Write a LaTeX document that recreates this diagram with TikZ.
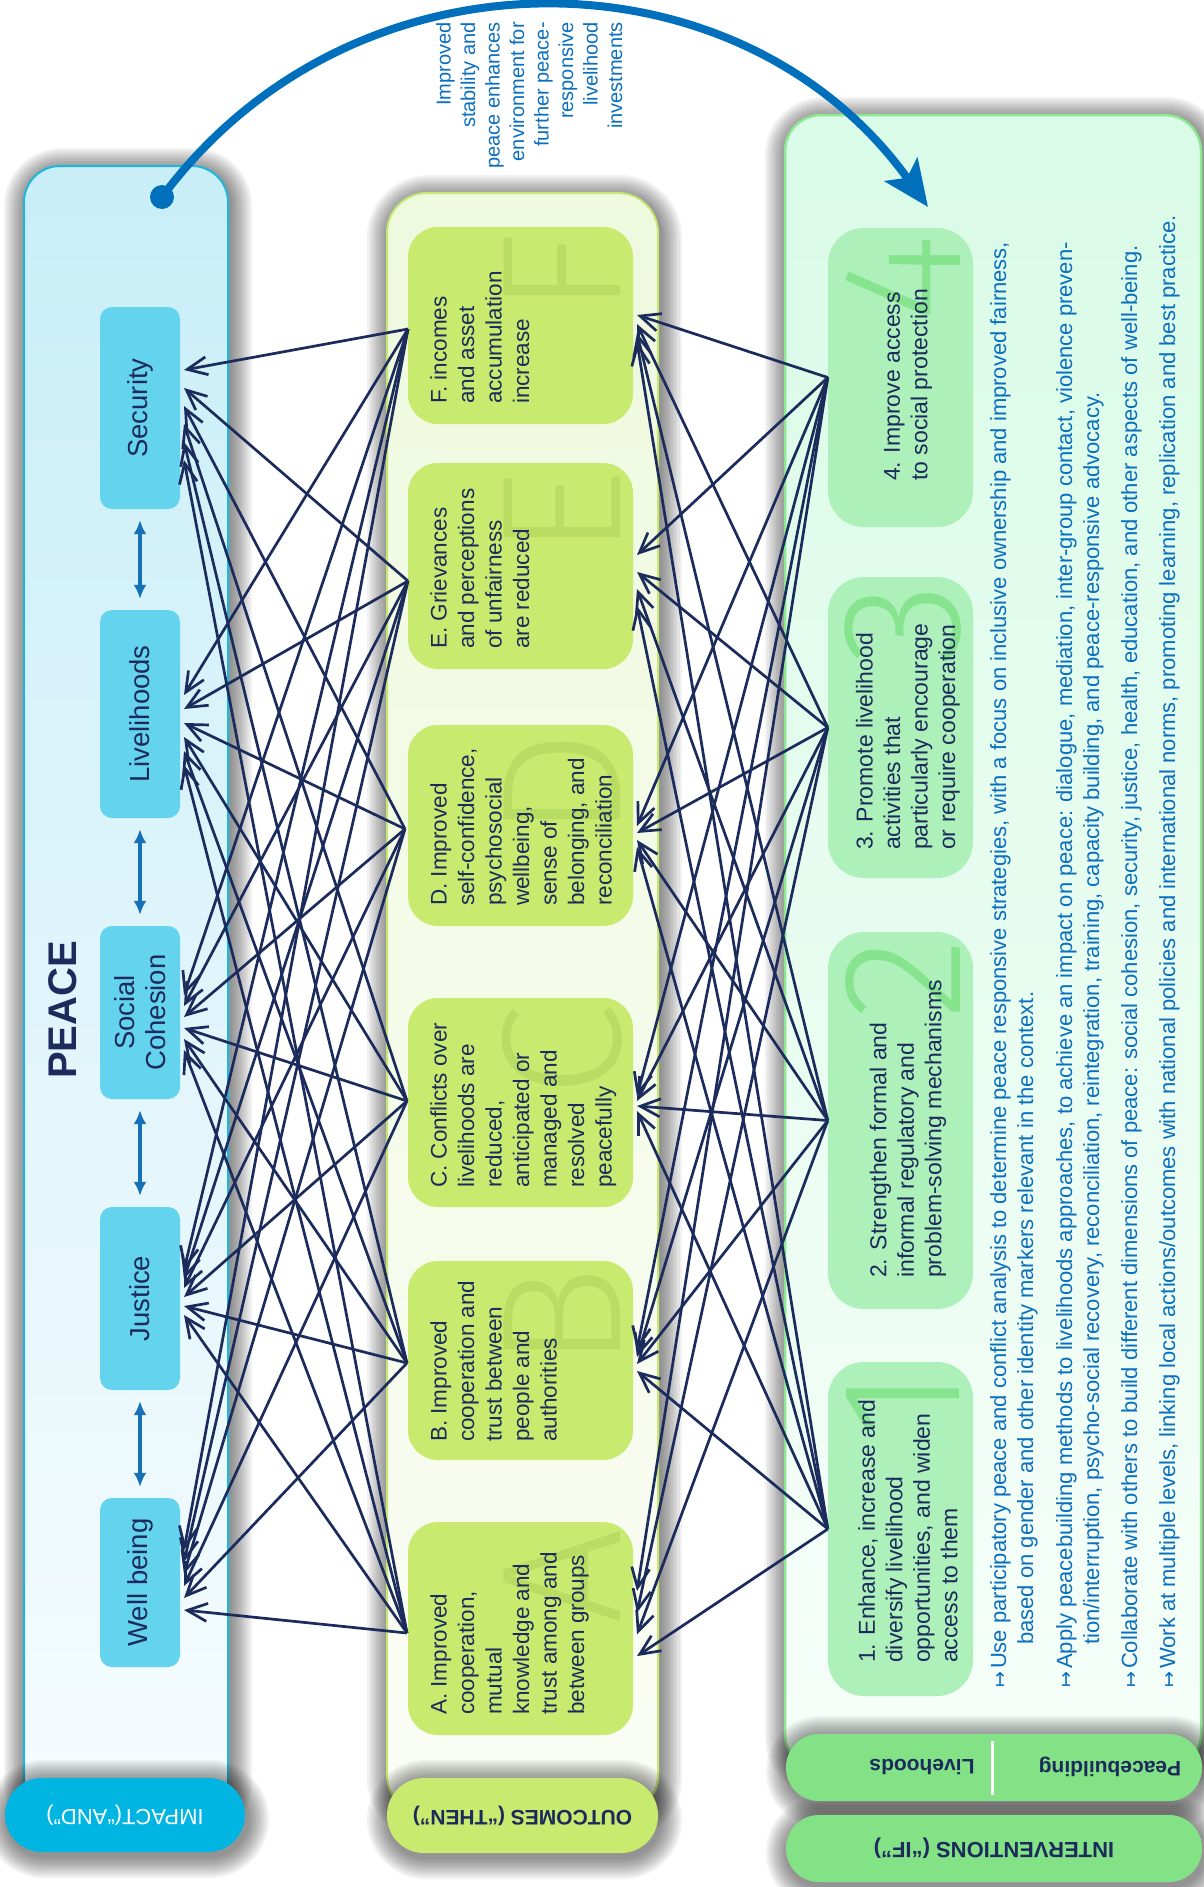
\documentclass[tikz,border=0pt]{standalone}
\usepackage{fontspec}
\setmainfont{Liberation Sans}
\newfontfamily\dejavu{DejaVu Sans}
\newfontfamily\thinfont{Fira Sans Light}
\usetikzlibrary{arrows.meta}
\definecolor{navy}{HTML}{1C2B5B}
\definecolor{linkc}{HTML}{1B2C5C}
\definecolor{impDark}{HTML}{00B5E2}
\definecolor{impInner}{HTML}{64D3EE}
\definecolor{impBorder}{HTML}{1DB6DC}
\definecolor{impTop}{HTML}{C9EEF8}
\definecolor{impBot}{HTML}{F6FCFE}
\definecolor{outInner}{HTML}{C8EA6F}
\definecolor{outLetter}{HTML}{B9DC62}
\definecolor{outBorder}{HTML}{C6E871}
\definecolor{outTop}{HTML}{EFF9DE}
\definecolor{outBot}{HTML}{FAFDF4}
\definecolor{intInner}{HTML}{AEF0BA}
\definecolor{intNum}{HTML}{86E38E}
\definecolor{intPill}{HTML}{84E286}
\definecolor{intBorder}{HTML}{8CE890}
\definecolor{intTop}{HTML}{D9FBE7}
\definecolor{intBot}{HTML}{F6FEF9}
\definecolor{bluetxt}{HTML}{0A6FBF}
\definecolor{arcblue}{HTML}{0070BD}
\definecolor{dblblue}{HTML}{1570B8}
\newcommand\softshadow[5]{%
  \foreach \sh in {1,...,10}{%
    \pgfmathsetmacro\shr{#5+\sh*2.2}%
    \fill[black,opacity=0.05,rounded corners=\shr pt] ({#1-\sh*2.2+2},{#2-\sh*2.2+4}) rectangle ({#3+\sh*2.2+2},{#4+\sh*2.2+4});}}
\newcommand\bularr{{\dejavu\fontsize{19}{19}\selectfont ↦}\hspace{3pt}}
\begin{document}
\begin{tikzpicture}[x=1pt,y=-1pt,
  impbox/.style={fill=impInner, rounded corners=12pt, minimum width=80pt, inner sep=0pt},
  outbox/.style={fill=outInner, rounded corners=30pt, minimum width=225pt, inner sep=0pt},
  intbox/.style={fill=intInner, rounded corners=36pt, minimum width=145pt, inner sep=0pt},
  imptext/.style={rotate=90, align=center, inner sep=0pt, text=navy, font=\fontsize{27.5}{31}\selectfont},
  outtext/.style={rotate=90, anchor=north west, align=left, inner sep=0pt, text=navy, font=\fontsize{22.5}{27.5}\selectfont},
  inttext/.style={rotate=90, anchor=west, align=left, inner sep=0pt, text=navy, font=\fontsize{23}{27.5}\selectfont},
  bigletter/.style={rotate=90, anchor=east, inner sep=0pt, text=outLetter, font=\thinfont\fontsize{170}{170}\selectfont},
  bignum/.style={rotate=90, anchor=east, inner sep=0pt, text=intNum, font=\thinfont\fontsize{170}{170}\selectfont},
  bullet/.style={rotate=90, anchor=north west, align=left, inner sep=0pt, text=bluetxt, font=\fontsize{22}{27}\selectfont},
  arrowline/.style={draw=linkc, line width=2.7pt, -{Straight Barb[length=20pt,width=18pt]}},
  twoway/.style={draw=dblblue, line width=3.2pt, {Latex[length=14pt,width=13pt]}-{Latex[length=14pt,width=13pt]}, shorten <=11pt, shorten >=11pt},
  pilltext/.style={rotate=180, text=navy, font=\bfseries\fontsize{21}{21}\selectfont}
]
\useasboundingbox (0,0) rectangle (1203,1887);
\fill[white] (0,0) rectangle (1203,1887);

% ---------- column shadows and frames ----------
\softshadow{24}{166}{228}{1815}{36}
\softshadow{387}{193}{658}{1815}{40}
\softshadow{785}{115}{1201}{1770}{36}
\path[draw=impBorder, line width=2pt, top color=impTop, bottom color=impBot, rounded corners=36pt] (24,166) rectangle (228,1815);
\path[draw=outBorder, line width=2pt, top color=outTop, bottom color=outBot, rounded corners=40pt] (387,193) rectangle (658,1815);
\path[draw=intBorder, line width=2.5pt, top color=intTop, bottom color=intBot, rounded corners=36pt] (785,115) rectangle (1201,1770);

% ---------- pills ----------
\softshadow{5}{1778}{245}{1852}{37}
\softshadow{387}{1778}{658}{1853}{37}
\softshadow{786}{1734}{1202}{1801}{33}
\softshadow{786}{1815}{1202}{1882}{33}
\node[rotate=180, fill=impDark, rounded corners=37pt, minimum width=240pt, minimum height=74pt, inner sep=0pt, text=white, font=\fontsize{22}{22}\selectfont] (impPill) at (125,1815) {IMPACT(“AND”)};
\node[rotate=180, fill=outInner, rounded corners=37pt, minimum width=271pt, minimum height=75pt, inner sep=0pt, text=navy, font=\bfseries\fontsize{21}{21}\selectfont] (outPill) at (522.5,1815.5) {OUTCOMES (“THEN”)};
\node[fill=intPill, rounded corners=33pt, minimum width=416pt, minimum height=67pt, inner sep=0pt] (pbPill) at (994,1767.5) {};
\draw[white, line width=3pt] (992,1741) -- (992,1795);
\node[pilltext] (lhT) at (922,1767) {Livehoods};
\node[pilltext] (pbT) at (1110,1767) {Peacebuilding};
\node[rotate=180, fill=intPill, rounded corners=33pt, minimum width=416pt, minimum height=67pt, inner sep=0pt, text=navy, font=\bfseries\fontsize{22}{22}\selectfont] (ifPill) at (994,1848.5) {INTERVENTIONS (“IF”)};

% ---------- impact ----------
\node[rotate=90, text=navy, font=\bfseries\fontsize{40}{40}\selectfont] (peace) at (63,1010) {PEACE};
\node[impbox, minimum height=202pt] (sec) at (140,408) {};
\node[impbox, minimum height=208pt] (liv) at (140,714) {};
\node[impbox, minimum height=173pt] (soc) at (140,1012.5) {};
\node[impbox, minimum height=183pt] (jus) at (140,1298.5) {};
\node[impbox, minimum height=169pt] (wel) at (140,1582.5) {};
\node[imptext] (secT) at (sec.center) {Security};
\node[imptext] (livT) at (liv.center) {Livelihoods};
\node[imptext] (socT) at (soc.center) {Social\\Cohesion};
\node[imptext] (jusT) at (jus.center) {Justice};
\node[imptext] (welT) at (wel.center) {Well being};
\draw[twoway] (sec.south) -- (liv.north);
\draw[twoway] (liv.south) -- (soc.north);
\draw[twoway] (soc.south) -- (jus.north);
\draw[twoway] (jus.south) -- (wel.north);

% ---------- outcomes ----------
\node[outbox, minimum height=197pt] (F) at (520.5,325.5) {};
\node[outbox, minimum height=206pt] (E) at (520.5,566) {};
\node[outbox, minimum height=201pt] (D) at (520.5,825.5) {};
\node[outbox, minimum height=209pt] (C) at (520.5,1102.5) {};
\node[outbox, minimum height=199pt] (B) at (520.5,1360.5) {};
\node[outbox, minimum height=213pt] (A) at (520.5,1628.5) {};
\node[bigletter] (FL) at (562,233) {F};
\node[bigletter] (EL) at (562,469) {E};
\node[bigletter] (DL) at (562,731) {D};
\node[bigletter] (CL) at (562,1004) {C};
\node[bigletter] (BL) at (562,1267) {B};
\node[bigletter] (AL) at (562,1528) {A};
\node[outtext] (FT) at (430,404) {F. incomes\\and asset\\accumulation\\increase};
\node[outtext] (ET) at (430,649) {E. Grievances\\and perceptions\\of unfairness\\are reduced};
\node[outtext] (DT) at (430,906) {D. Improved\\self-confidence,\\psychosocial\\wellbeing,\\sense of\\belonging, and\\reconciliation};
\node[outtext] (CT) at (430,1188) {C. Conflicts over\\livelihoods are\\reduced,\\anticipated or\\managed and\\resolved\\peacefully};
\node[outtext] (BT) at (430,1442) {B. Improved\\cooperation and\\trust between\\people and\\authorities};
\node[outtext] (AT) at (430,1715) {A. Improved\\cooperation,\\mutual\\knowledge and\\trust among and\\between groups};

% ---------- interventions ----------
\node[intbox, minimum height=299pt] (i4) at (900.5,377.5) {};
\node[intbox, minimum height=301pt] (i3) at (900.5,727.5) {};
\node[intbox, minimum height=377pt] (i2) at (900.5,1120.5) {};
\node[intbox, minimum height=334pt] (i1) at (900.5,1529) {};
\node[bignum] (n4) at (903,234) {4};
\node[bignum] (n3) at (903,583) {3};
\node[bignum] (n2) at (903,938) {2};
\node[bignum] (n1) at (903,1368) {1};
\node[inttext] (i4T) at (908,481) {4. Improve access\\to social protection};
\node[inttext] (i3T) at (908,850) {3. Promote livelihood\\activities that\\particularly encourage\\or require cooperation};
\node[inttext] (i2T) at (908,1278) {2. Strengthen formal and\\informal regulatory and\\problem-solving mechanisms};
\node[inttext] (i1T) at (908,1663) {1. Enhance, increase and\\diversify livelihood\\opportunities, and widen\\access to them};

\node[bullet] (b1) at (990,1688) {\bularr Use participatory peace and conflict analysis to determine peace responsive strategies, with a focus on inclusive ownership and improved fairness,\\\hspace*{43pt}based on gender and other identity markers relevant in the context.};
\node[bullet] (b2) at (1056,1688) {\bularr Apply peacebuilding methods to livelihoods approaches, to achieve an impact on peace: dialogue, mediation, inter-group contact, violence preven-\\\hspace*{43pt}tion/interruption, psycho-social recovery, reconciliation, reintegration, training, capacity building, and peace-responsive advocacy.};
\node[bullet] (b3) at (1121,1688) {\bularr Collaborate with others to build different dimensions of peace: social cohesion, security, justice, health, education, and other aspects of well-being.};
\node[bullet] (b4) at (1159,1688) {\bularr Work at multiple levels, linking local actions/outcomes with national policies and international norms, promoting learning, replication and best practice.};

% ---------- feedback arc ----------
\node[rotate=90, anchor=north east, align=right, inner sep=0pt, text=bluetxt, font=\fontsize{20}{24.5}\selectfont] (arcT) at (436,22) {Improved\\stability and\\peace enhances\\environment for\\further peace-\\responsive\\livelihood\\investments};
\node[circle, fill=arcblue, minimum size=24pt, inner sep=0pt] (dot) at (162,197) {};
\coordinate (arcend) at (928,207);
\draw[arcblue, line width=8pt, -{Stealth[length=46pt,width=40pt,inset=10pt]}] (dot.center) .. controls (354,-61.5) and (740,-55) .. (arcend);

% ---------- connectors: outcomes -> impacts ----------
\coordinate (sF) at (408,329);
\coordinate (sE) at (408,581);
\coordinate (sD) at (405,829);
\coordinate (sC) at (407,1101);
\coordinate (sB) at (407,1363);
\coordinate (sA) at (407,1633);
\foreach \imp/\ya/\dy in {sec/370/18, liv/695/14, soc/995/11, jus/1270/9, wel/1550/12}{
  \foreach \oc [count=\k from 0] in {F,E,D,C,B,A}{
    \coordinate (t-\imp-\oc) at (184,{\ya+\dy*\k});
  }
}
\foreach \imp in {sec,liv,soc,jus,wel}{
  \foreach \oc in {F,E,D,C,B,A}{
    \draw[arrowline] (s\oc) -- (t-\imp-\oc);
  }
}
% ---------- connectors: interventions -> outcomes ----------
\foreach \oc/\ya/\dy in {F/315/9, E/555/17, D/826/7, C/1096/5, B/1350/7, A/1591/21.7}{
  \foreach \iv [count=\k from 0] in {4,3,2,1}{
    \coordinate (r-\oc-\iv) at (637,{\ya+\dy*\k});
  }
}
\foreach \iv in {4,3,2,1}{
  \foreach \oc in {F,E,D,C,B,A}{
    \draw[arrowline] (i\iv.west) -- (r-\oc-\iv);
  }
}
\end{tikzpicture}
\end{document}
